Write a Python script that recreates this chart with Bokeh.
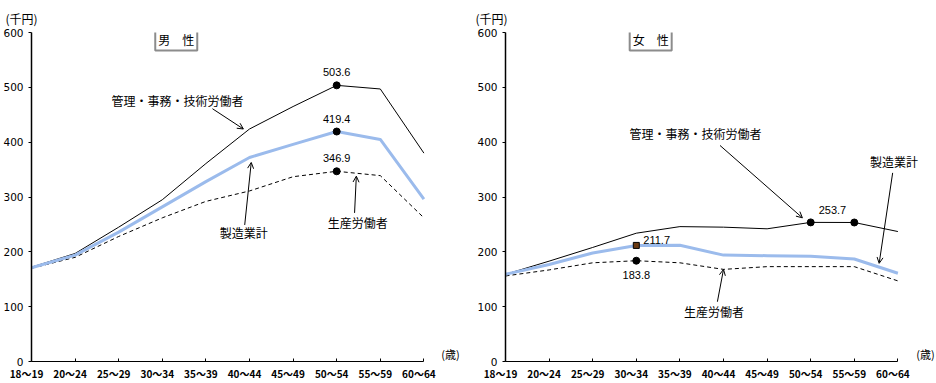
from bokeh.plotting import figure
from bokeh.layouts import row
from bokeh.models import Arrow, OpenHead, Label, FixedTicker, Range1d
from bokeh.core.properties import value
from bokeh.embed import file_html
from bokeh.resources import INLINE

ages = ["18～19", "20～24", "25～29", "30～34", "35～39",
        "40～44", "45～49", "50～54", "55～59", "60～64"]
y_ticks = [0, 100, 200, 300, 400, 500, 600]

male_mgmt = [172, 197, 245, 295, 361, 424, 465, 503.6, 497, 380]
male_mfg = [171, 194, 236, 282, 328, 372, 396, 419.4, 405, 296]
male_prod = [170, 190, 228, 262, 292, 311, 337, 346.9, 339, 262]

female_mgmt = [159, 183, 208, 234, 246, 245, 242, 253.7, 253.5, 237]
female_mfg = [159, 177, 198, 211.7, 212, 194, 193, 192, 187, 161]
female_prod = [156, 167, 180, 183.8, 180, 168, 173, 173, 173, 147]

name_mgmt = "管理・事務・技術労働者"
name_mfg = "製造業計"
name_prod = "生産労働者"

JP = "Noto Sans CJK JP"
NUM = "Liberation Sans"
BLUE = "#9BBBEC"


def make_panel(width, left, x_end, title, title_x, title_off, mgmt, mfg, prod, notes, unit_x):
    p = figure(width=width, height=383, output_backend="svg", toolbar_location=None,
               x_range=Range1d(0, x_end), y_range=Range1d(0, 600),
               min_border_left=left, min_border_right=0,
               min_border_top=32, min_border_bottom=20)
    p.outline_line_color = None
    p.xgrid.grid_line_color = None
    p.ygrid.grid_line_color = None
    p.background_fill_color = "white"
    p.border_fill_color = "white"

    p.title.text = "(千円)"
    p.title.align = "left"
    p.title.vertical_align = "top"
    p.title.offset = title_off
    p.title.standoff = 8
    p.title.text_font = JP
    p.title.text_font_style = "normal"
    p.title.text_font_size = "12px"
    p.title.text_color = "black"

    xs = list(range(len(ages)))
    p.xaxis.bounds = (0, 9)
    p.xaxis.ticker = FixedTicker(ticks=xs)
    p.xaxis.major_label_overrides = {i: lab + "\u3000" for i, lab in enumerate(ages)}
    p.xaxis.major_label_text_font = JP
    p.xaxis.major_label_text_font_style = "bold"
    p.xaxis.major_label_text_font_size = "10px"
    p.xaxis.major_label_text_color = "black"
    p.xaxis.major_label_standoff = 4
    p.xaxis.major_tick_in = 3
    p.xaxis.major_tick_out = 0
    p.xaxis.minor_tick_line_color = None
    p.xaxis.axis_line_color = "black"
    p.xaxis.major_tick_line_color = "black"

    p.yaxis.ticker = FixedTicker(ticks=y_ticks)
    p.yaxis.major_label_text_font = "DejaVu Sans"
    p.yaxis.major_label_text_font_size = "10.5px"
    p.yaxis.major_label_text_color = "black"
    p.yaxis.major_label_standoff = 5
    p.yaxis.major_tick_in = 0
    p.yaxis.major_tick_out = 3
    p.yaxis.minor_tick_line_color = None
    p.yaxis.axis_line_color = "black"
    p.yaxis.major_tick_line_color = "black"
    p.yaxis.axis_line_width = 1.5

    p.line(xs, mgmt, line_color="black", line_width=1)
    p.line(xs, prod, line_color="black", line_width=1, line_dash="4 3")
    p.line(xs, mfg, line_color=BLUE, line_width=3)

    for kind, txt, tx, ty, ax0, ay0, ax1, ay1 in notes:
        p.add_layout(Label(x=tx, y=ty, text=txt, text_align="center", text_baseline="middle",
                           text_font=JP, text_font_size="12px", text_color="black"))
        p.add_layout(Arrow(x_start=ax0, y_start=ay0, x_end=ax1, y_end=ay1,
                           line_color="black", line_width=1,
                           end=OpenHead(size=6, line_color="black", line_width=1)))

    p.add_layout(Label(x=title_x, y=588, text=title, text_align="center", text_baseline="middle",
                       text_font=JP, text_font_size="12px", text_color="black",
                       border_line_color="#8C8C8C", border_line_width=2,
                       background_fill_color="white", padding=3))
    p.add_layout(Label(x=unit_x, y=0, text="(歳)", text_align="left", text_baseline="bottom",
                       text_font=JP, text_font_size="11px", text_color="black"))
    return p


male_notes = [
    ("mgmt", name_mgmt, 3.35, 476, 4.15, 461, 4.86, 424),
    ("mfg", name_mfg, 4.87, 236, 4.89, 249, 5.04, 363),
    ("prod", name_prod, 7.48, 254, 7.41, 271, 7.45, 338),
]
female_notes = [
    ("mgmt", name_mgmt, 4.36, 416, 4.92, 394, 6.81, 262),
    ("mfg", name_mfg, 8.91, 364, 8.88, 344, 8.57, 179),
    ("prod", name_prod, 4.78, 92, 4.86, 109, 5.0, 168),
]

p1 = make_panel(470, 31, (470 - 31) / 43.6, "男\u3000性", 3.32, -26,
                male_mgmt, male_mfg, male_prod, male_notes, 9.4)
p2 = make_panel(466, 35, (466 - 35) / 43.6, "女\u3000性", 3.33, -30,
                female_mgmt, female_mfg, female_prod, female_notes, 9.42)

# male: peak markers at 50～54
pk = 7
for series in (male_mgmt, male_mfg, male_prod):
    p1.scatter([pk], [series[pk]], size=7, color="black")
    p1.text([pk], [series[pk]], text=[f"{series[pk]:.1f}"], text_align="center",
            text_baseline="middle", y_offset=-13, text_font=value(NUM), text_font_size="11px")

# female markers
p2.scatter([7, 8], [female_mgmt[7], female_mgmt[8]], size=7, color="black")
p2.text([7], [female_mgmt[7]], text=[f"{female_mgmt[7]:.1f}"], text_align="left",
        text_baseline="middle", x_offset=8, y_offset=-12, text_font=value(NUM), text_font_size="11px")
p2.scatter([3], [female_mfg[3]], size=6, marker="square", fill_color="#6B3A12", line_color="black")
p2.text([3], [female_mfg[3]], text=[f"{female_mfg[3]:.1f}"], text_align="left",
        text_baseline="middle", x_offset=7, y_offset=-5, text_font=value(NUM), text_font_size="11px")
p2.scatter([3], [female_prod[3]], size=7, color="black")
p2.text([3], [female_prod[3]], text=[f"{female_prod[3]:.1f}"], text_align="center",
        text_baseline="middle", y_offset=14, text_font=value(NUM), text_font_size="11px")

layout = row(p1, p2)
open("out.html", "w").write(file_html(layout, INLINE))
